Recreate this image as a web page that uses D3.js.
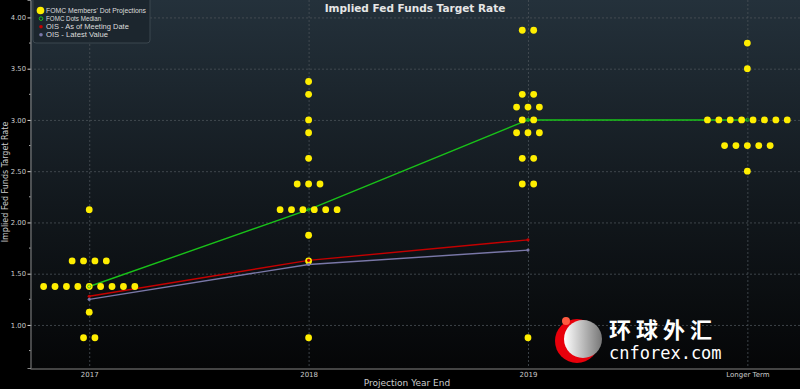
<!DOCTYPE html>
<html>
<head>
<meta charset="utf-8">
<script src="https://cdn.jsdelivr.net/npm/d3@7"></script>
<style>
  html, body { margin: 0; padding: 0; background: #000; }
  svg { display: block; }
</style>
</head>
<body>
<div id="chart"></div>
<script>
// ---- data ----
const categories = ['2017', '2018', '2019', 'Longer Term'];

// dot projections: [category index, rate, count]
const dotRows = [
  [0, 2.125, 1], [0, 1.625, 4], [0, 1.375, 9], [0, 1.125, 1], [0, 0.875, 2],
  [1, 3.375, 1], [1, 3.25, 1], [1, 3.0, 1], [1, 2.875, 1], [1, 2.625, 1],
  [1, 2.375, 3], [1, 2.125, 6], [1, 1.875, 1], [1, 1.625, 1], [1, 0.875, 1],
  [2, 3.875, 2], [2, 3.25, 2], [2, 3.125, 3], [2, 3.0, 2], [2, 2.875, 3],
  [2, 2.625, 2], [2, 2.375, 2], [2, 0.875, 1],
  [3, 3.75, 1], [3, 3.5, 1], [3, 3.0, 8], [3, 2.75, 5], [3, 2.5, 1]
];
const medianValues = [1.375, 2.125, 3.0, 3.0];
const oisMeeting = [1.28, 1.63, 1.83];
const oisLatest = [1.25, 1.59, 1.73];
const yTicks = [1.0, 1.5, 2.0, 2.5, 3.0, 3.5, 4.0];
const yMinorTicks = [0.75, 1.25, 1.75, 2.25, 2.75, 3.25, 3.75];

const width = 800, height = 389;
const plot = { left: 30, right: 800, top: 0, bottom: 368 };

const svg = d3.select('#chart').append('svg')
  .attr('width', width).attr('height', height);

const defs = svg.append('defs');
const grad = defs.append('linearGradient')
  .attr('id', 'bg').attr('x1', 0).attr('y1', 0).attr('x2', 0).attr('y2', 1);
grad.append('stop').attr('offset', '0%').attr('stop-color', '#24313b');
grad.append('stop').attr('offset', '55%').attr('stop-color', '#12181d');
grad.append('stop').attr('offset', '100%').attr('stop-color', '#050607');

svg.append('rect').attr('width', width).attr('height', height).attr('fill', '#000');
svg.append('rect')
  .attr('x', plot.left).attr('y', plot.top)
  .attr('width', plot.right - plot.left).attr('height', plot.bottom - plot.top)
  .attr('fill', 'url(#bg)');

const x = d3.scaleLinear().domain([-0.27, 3.24]).range([plot.left, plot.right]);
const y = d3.scaleLinear().domain([0.58, 4.17]).range([plot.bottom, plot.top]);

// grid
const grid = svg.append('g').attr('stroke', '#4a5258').attr('stroke-dasharray', '2,2').attr('stroke-width', 0.8);
grid.selectAll('line.h').data(yTicks).join('line')
  .attr('x1', plot.left).attr('x2', plot.right)
  .attr('y1', d => y(d) + 0.5).attr('y2', d => y(d) + 0.5);
grid.selectAll('line.v').data(categories).join('line')
  .attr('x1', (d, i) => x(i) + 0.5).attr('x2', (d, i) => x(i) + 0.5)
  .attr('y1', plot.top).attr('y2', plot.bottom);

// axes
const yAxis = d3.axisLeft(y).tickValues(yTicks).tickFormat(d3.format('.2f')).tickSize(3).tickPadding(1.5);
const gy = svg.append('g').attr('transform', `translate(${plot.left + 0.5},0)`).call(yAxis);
gy.select('.domain').attr('stroke', '#888');
gy.selectAll('.tick line').attr('stroke', '#ddd');
gy.selectAll('.tick text').attr('fill', '#ccc').attr('font-size', 6.8).attr('font-family', 'DejaVu Sans, sans-serif');
svg.append('g').selectAll('line').data(yMinorTicks).join('line')
  .attr('x1', plot.left - 1).attr('x2', plot.left + 0.5)
  .attr('y1', d => y(d)).attr('y2', d => y(d))
  .attr('stroke', '#aaa');

const xAxis = d3.axisBottom(x).tickValues(d3.range(categories.length))
  .tickFormat(i => categories[i]).tickSize(0).tickPadding(4);
const gx = svg.append('g').attr('transform', `translate(0,${plot.bottom + 0.5})`).call(xAxis);
gx.select('.domain').attr('stroke', '#888').attr('stroke-width', 1.2);
gx.selectAll('.tick text').attr('fill', '#ccc').attr('font-size', 7).attr('font-family', 'DejaVu Sans, sans-serif');

svg.append('text')
  .attr('x', 407).attr('y', 386)
  .attr('text-anchor', 'middle')
  .attr('fill', '#ccc').attr('font-size', 9).attr('font-family', 'DejaVu Sans, sans-serif')
  .text('Projection Year End');
svg.append('text')
  .attr('transform', `translate(8,182) rotate(-90)`)
  .attr('text-anchor', 'middle')
  .attr('fill', '#ccc').attr('font-size', 8).attr('font-family', 'DejaVu Sans, sans-serif')
  .text('Implied Fed Funds Target Rate');

// title
svg.append('text')
  .attr('x', 415).attr('y', 12)
  .attr('text-anchor', 'middle')
  .attr('fill', '#e6e6e6').attr('font-size', 10.5).attr('font-weight', 'bold')
  .attr('font-family', 'DejaVu Sans, sans-serif')
  .text('Implied Fed Funds Target Rate');

// lines
const line = d3.line().x((d, i) => x(i)).y(d => y(d));
svg.append('path').datum(oisLatest).attr('d', line)
  .attr('fill', 'none').attr('stroke', '#7a78a8').attr('stroke-width', 1.4);
svg.append('path').datum(oisMeeting).attr('d', line)
  .attr('fill', 'none').attr('stroke', '#c40000').attr('stroke-width', 1.4);
svg.append('path').datum(medianValues).attr('d', line)
  .attr('fill', 'none').attr('stroke', '#19c219').attr('stroke-width', 1.4);

// dots
const dotSpacing = 11.4;
const dots = [];
dotRows.forEach(([ci, rate, n]) => {
  for (let k = 0; k < n; k++) dots.push({ ci, rate, off: (k - (n - 1) / 2) * dotSpacing });
});
svg.append('g').selectAll('circle').data(dots).join('circle')
  .attr('cx', d => x(d.ci) + d.off)
  .attr('cy', d => y(d.rate))
  .attr('r', 3.4)
  .attr('fill', '#ffee00');

// small markers on the lines
svg.append('g').selectAll('circle').data(oisMeeting).join('circle')
  .attr('cx', (d, i) => x(i)).attr('cy', d => y(d)).attr('r', 1.6).attr('fill', '#c40000');
svg.append('g').selectAll('circle').data(oisLatest).join('circle')
  .attr('cx', (d, i) => x(i)).attr('cy', d => y(d)).attr('r', 1.6).attr('fill', '#7a78a8');
svg.append('g').selectAll('circle').data(medianValues).join('circle')
  .attr('cx', (d, i) => x(i)).attr('cy', d => y(d)).attr('r', 1.6)
  .attr('fill', 'none').attr('stroke', '#19c219').attr('stroke-width', 0.8);

// legend
const legend = svg.append('g');
legend.append('rect')
  .attr('x', 33).attr('y', -3).attr('width', 117).attr('height', 46).attr('rx', 3)
  .attr('fill', '#1c262d').attr('fill-opacity', 0.9)
  .attr('stroke', '#3b464e');
const legendItems = [
  { label: "FOMC Members' Dot Projections", kind: 'dot', color: '#ffee00' },
  { label: 'FOMC Dots Median', kind: 'ring', color: '#19c219' },
  { label: 'OIS - As of Meeting Date', kind: 'small', color: '#c40000' },
  { label: 'OIS - Latest Value', kind: 'small', color: '#7a78a8' }
];
legendItems.forEach((d, i) => {
  const cy = 10.5 + i * 8.1;
  if (d.kind === 'dot') {
    legend.append('circle').attr('cx', 40.5).attr('cy', cy).attr('r', 3.8).attr('fill', d.color);
  } else if (d.kind === 'ring') {
    legend.append('circle').attr('cx', 41).attr('cy', cy).attr('r', 1.8)
      .attr('fill', 'none').attr('stroke', d.color).attr('stroke-width', 1);
  } else {
    legend.append('circle').attr('cx', 41).attr('cy', cy).attr('r', 1.8).attr('fill', d.color);
  }
  legend.append('text')
    .attr('x', 46).attr('y', cy + 2.6)
    .attr('fill', '#ddd').attr('font-size', 7.6).attr('font-family', 'Liberation Sans, sans-serif')
    .attr('textLength', d.label.length * 3.45).attr('lengthAdjust', 'spacingAndGlyphs')
    .text(d.label);
});

// watermark
const wm = svg.append('g');
const lg = defs.append('linearGradient').attr('id', 'wmg').attr('x1', 0).attr('x2', 1);
lg.append('stop').attr('offset', '0%').attr('stop-color', '#ffffff');
lg.append('stop').attr('offset', '100%').attr('stop-color', '#777');
wm.append('circle').attr('cx', 577).attr('cy', 341).attr('r', 22).attr('fill', '#e8000b');
wm.append('circle').attr('cx', 583).attr('cy', 339).attr('r', 19).attr('fill', 'url(#wmg)');
wm.append('circle').attr('cx', 566).attr('cy', 321).attr('r', 4).attr('fill', '#ff5a40');
wm.append('text')
  .attr('x', 609).attr('y', 338)
  .attr('fill', '#fff').attr('font-size', 22).attr('font-weight', 'bold')
  .attr('font-family', 'Noto Sans CJK SC, sans-serif')
  .attr('letter-spacing', 5)
  .text('环球外汇');
wm.append('text')
  .attr('x', 609).attr('y', 359)
  .attr('fill', '#fff').attr('font-size', 17)
  .attr('font-family', 'DejaVu Sans Mono, monospace')
  .text('cnforex.com');
</script>
</body>
</html>
